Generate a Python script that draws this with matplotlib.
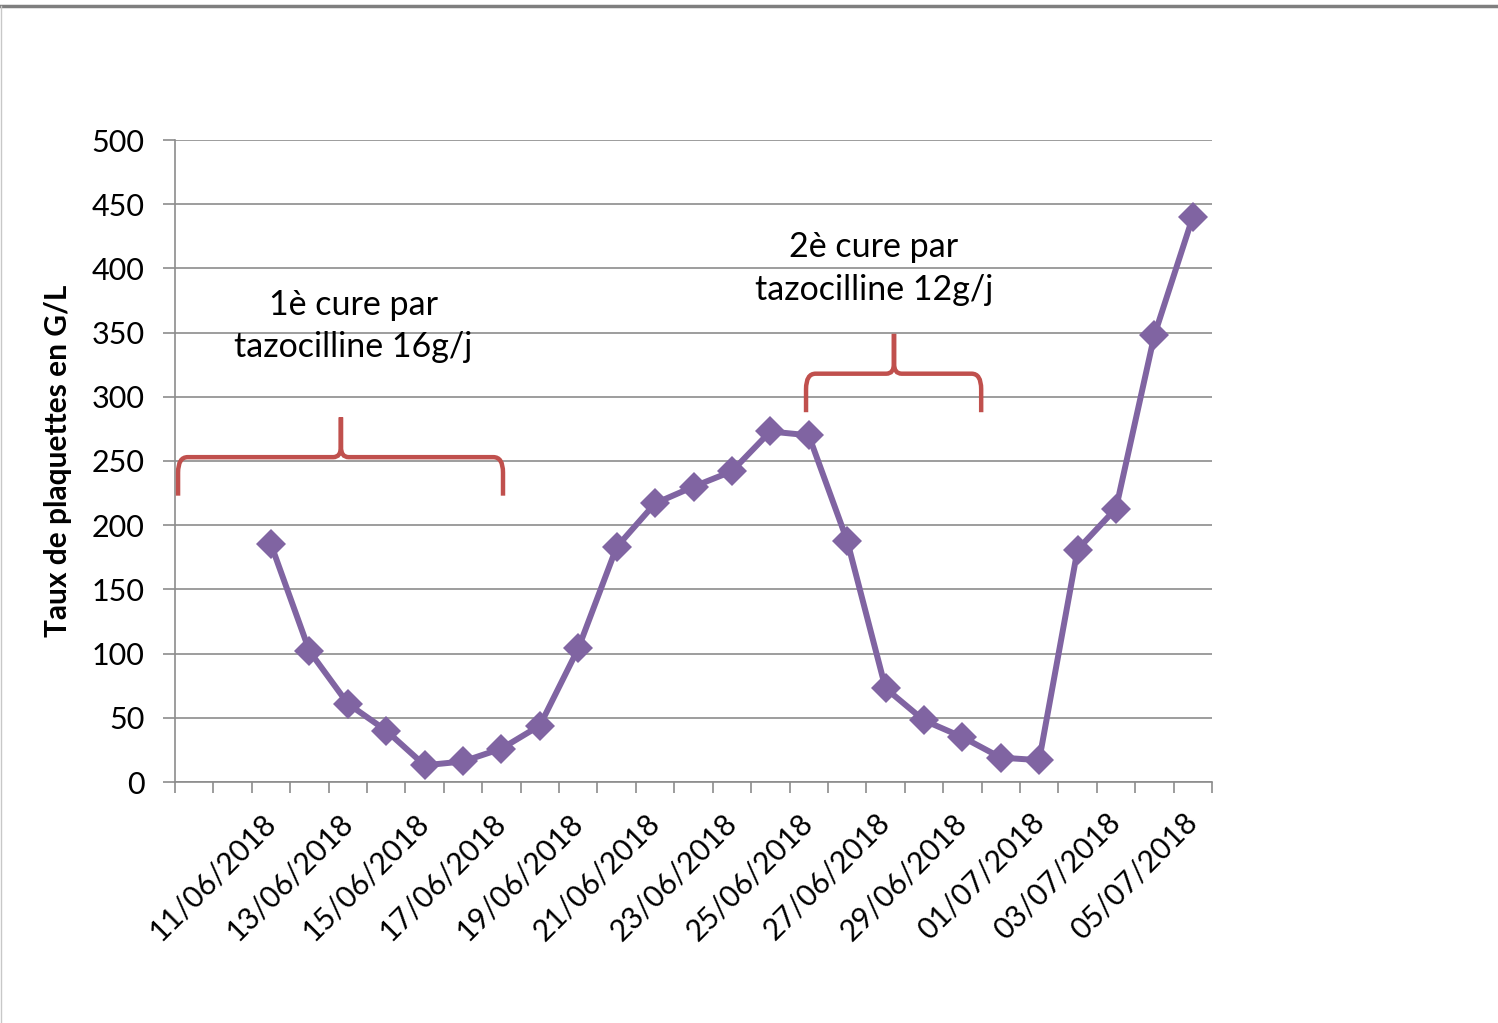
import numpy as np
import matplotlib.pyplot as plt
from matplotlib.path import Path
from matplotlib.patches import PathPatch
from matplotlib.lines import Line2D

plt.rcParams['font.family'] = ['Lato', 'DejaVu Sans']

# 27 daily categories, 09/06/2018 .. 05/07/2018 (first two have no value)
dates = ["09/06/2018", "10/06/2018", "11/06/2018", "12/06/2018", "13/06/2018",
         "14/06/2018", "15/06/2018", "16/06/2018", "17/06/2018", "18/06/2018",
         "19/06/2018", "20/06/2018", "21/06/2018", "22/06/2018", "23/06/2018",
         "24/06/2018", "25/06/2018", "26/06/2018", "27/06/2018", "28/06/2018",
         "29/06/2018", "30/06/2018", "01/07/2018", "02/07/2018", "03/07/2018",
         "04/07/2018", "05/07/2018"]
platelets = [np.nan, np.nan, 185, 102, 61, 40, 13, 16, 26, 44, 104, 183, 217,
             230, 242, 273, 270, 188, 73, 48, 35, 19, 17, 181, 213, 348, 440]
label_idx = list(range(2, 27, 2))

yticks = [0, 50, 100, 150, 200, 250, 300, 350, 400, 450, 500]
cures = ["1è cure par\ntazocilline 16g/j", "2è cure par\ntazocilline 12g/j"]

fig = plt.figure(figsize=(14.98, 10.23), dpi=100)
ax = fig.add_axes([175 / 1498, 1 - 782 / 1023, (1212 - 175) / 1498, (782 - 140) / 1023])

grid_c = '#8c8c8c'
x = np.arange(len(dates))
ax.plot(x, platelets, color='#8064A2', lw=4.3, marker='D', markersize=15,
        markeredgewidth=0, zorder=3)

ax.set_xlim(-0.5, len(dates) - 0.5)
ax.set_ylim(0, 500)
ax.set_yticks(yticks)
ax.grid(axis='y', color=grid_c, lw=1.2)
ax.set_axisbelow(True)
for s in ['top', 'right']:
    ax.spines[s].set_visible(False)
for s in ['left', 'bottom']:
    ax.spines[s].set_color(grid_c)
    ax.spines[s].set_linewidth(1.2)

ax.set_xticks(label_idx)
ax.set_xticklabels([dates[i] for i in label_idx], rotation=45, ha='right',
                   va='center', rotation_mode='anchor', fontsize=21.5)
ax.set_xticks(np.arange(-0.5, len(dates), 1), minor=True)
ax.tick_params(axis='x', which='major', length=0, pad=26)
ax.tick_params(axis='x', which='minor', length=8, width=1.2, color=grid_c)
ax.tick_params(axis='y', length=9, width=1.2, color=grid_c, labelsize=22, pad=13)

ax.set_ylabel("Taux de plaquettes en G/L", fontsize=21.5, fontweight='bold', labelpad=14)


def brace(x0, x1, xt, yh, ybot, ytip):
    rx, ry = 0.25, 12
    cx, cy = 0.2, 8
    verts = [(x0, ybot), (x0, yh - ry), (x0, yh), (x0 + rx, yh),
             (xt - cx, yh), (xt, yh), (xt, yh + cy), (xt, ytip),
             (xt, yh + cy), (xt, yh), (xt + cx, yh),
             (x1 - rx, yh), (x1, yh), (x1, yh - ry), (x1, ybot)]
    codes = [Path.MOVETO, Path.LINETO, Path.CURVE3, Path.CURVE3,
             Path.LINETO, Path.CURVE3, Path.CURVE3, Path.LINETO,
             Path.LINETO, Path.CURVE3, Path.CURVE3,
             Path.LINETO, Path.CURVE3, Path.CURVE3, Path.LINETO]
    ax.add_patch(PathPatch(Path(verts, codes), fill=False, ec='#C0504D',
                           lw=3.2, zorder=4, clip_on=False))


brace(-0.42, 8.04, 3.82, 253, 223, 284)
brace(15.93, 20.49, 18.22, 318, 288, 349)

ax.text(4.15, 355, cures[0], ha='center', va='center', fontsize=24.5, linespacing=1.4)
ax.text(17.7, 400, cures[1], ha='center', va='center', fontsize=24.5, linespacing=1.4)

# screenshot frame
fig.add_artist(Line2D([0, 1], [1 - 6 / 1023, 1 - 6 / 1023], color='#7f7f7f', lw=2.5))
fig.add_artist(Line2D([0.0005, 0.0005], [0, 1 - 6 / 1023], color='#c8c8c8', lw=1))

fig.savefig('out.png', dpi=100)
